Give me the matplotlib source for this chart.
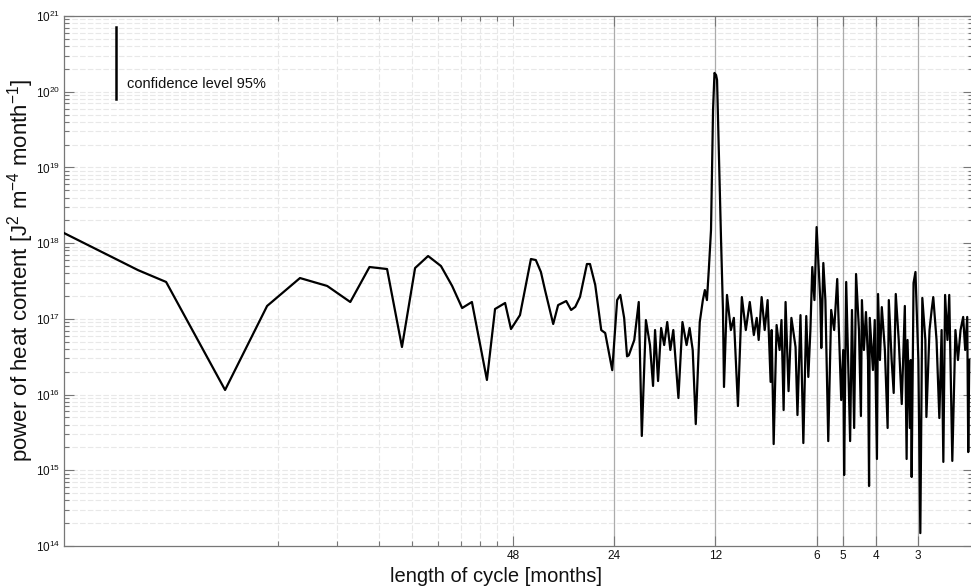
import numpy as np
import matplotlib
matplotlib.use("Agg")
import matplotlib.pyplot as plt
from matplotlib.ticker import FixedLocator, NullFormatter, LogFormatterSciNotation, FixedFormatter
import matplotlib.transforms as mtransforms

plt.rcParams['font.family'] = ['Liberation Sans', 'DejaVu Sans']
plt.rcParams['mathtext.fontset'] = 'custom'
plt.rcParams['mathtext.rm'] = 'Liberation Sans'
plt.rcParams['mathtext.it'] = 'Liberation Sans:italic'
plt.rcParams['mathtext.bf'] = 'Liberation Sans:bold'

# ---- data: period of cycle [months] and spectral power ----
period_months = [
    1036, 624, 515, 344, 258, 206, 171, 146, 128, 113.5, 102.5, 93.7, 85.7, 78.5,
    72.7, 67.9, 63.5, 57.3, 54.2, 50.6, 48.6, 45.7, 42.4, 41.0, 39.6, 38.5, 36.4,
    35.2, 33.3, 32.2, 31.3, 30.3, 28.9, 28.3, 27.3, 26.2, 25.5, 24.3, 23.5, 23.0,
    22.4, 21.96, 21.7, 20.9,
    20.27, 19.85, 19.30, 18.77, 18.38, 18.13, 17.76, 17.39, 17.03, 16.68, 16.33,
    16.00, 15.45, 15.03, 14.61, 14.31, 14.01, 13.72, 13.35, 13.07, 12.89, 12.71,
    12.54, 12.36, 12.19, 12.07, 11.94, 11.86, 11.70, 11.54, 11.39, 11.31, 11.08,
    10.79, 10.57, 10.28, 10.01, 9.74, 9.48, 9.22, 9.04, 8.92, 8.74, 8.56, 8.39,
    8.22, 8.16, 8.05, 7.89, 7.73, 7.63, 7.52, 7.42, 7.27, 7.13, 6.93, 6.84, 6.70,
    6.57, 6.44, 6.35, 6.26, 6.18, 6.09, 6.0, 5.85, 5.81, 5.73, 5.65, 5.54, 5.43,
    5.32, 5.21, 5.07, 5.00, 4.97, 4.90, 4.77, 4.71, 4.64, 4.58, 4.49, 4.43, 4.40,
    4.34, 4.28, 4.22, 4.19, 4.17, 4.08, 4.03, 3.97, 3.94, 3.89, 3.84, 3.76, 3.69,
    3.66, 3.59, 3.54, 3.49, 3.42, 3.35, 3.28, 3.24, 3.22, 3.17, 3.15, 3.13, 3.09,
    3.05, 3.01, 2.99, 2.95, 2.91, 2.85, 2.83, 2.77, 2.73, 2.70, 2.64, 2.59, 2.55,
    2.52, 2.49, 2.45, 2.42, 2.37, 2.32, 2.28, 2.24, 2.20, 2.17, 2.14, 2.125, 2.11,
]
power = [
    1.36e18, 4.4e17, 3.07e17, 1.15e16, 1.48e17, 3.46e17, 2.72e17, 1.67e17, 4.84e17,
    4.55e17, 4.25e16, 4.69e17, 6.76e17, 4.99e17, 2.72e17, 1.39e17, 1.67e17, 1.56e16,
    1.35e17, 1.62e17, 7.34e16, 1.12e17, 6.17e17, 5.98e17, 4.16e17, 2.4e17, 8.55e16,
    1.52e17, 1.72e17, 1.31e17, 1.44e17, 1.95e17, 5.3e17, 5.3e17, 2.8e17, 7.1e16,
    6.5e16, 2.1e16, 1.77e17, 2.07e17, 1.03e17, 3.2e16, 3.3e16, 5.25e16,
    1.67e17, 2.84e15, 9.65e16, 4.51e16, 1.30e16, 7.12e16, 1.51e16, 7.57e16, 4.51e16,
    9.08e16, 3.88e16, 7.12e16, 9.0e15, 9.08e16, 4.51e16, 7.57e16, 3.88e16, 4.08e15,
    9.08e16, 1.77e17, 2.40e17, 1.77e17, 4.69e17, 1.49e18, 5.73e19, 1.77e20, 1.66e20,
    1.43e20, 1.25e19, 1.10e18, 1.31e17, 1.26e16, 2.07e17, 7.12e16, 1.03e17, 7.06e15,
    1.94e17, 7.12e16, 1.67e17, 6.12e16, 1.03e17, 5.26e16, 1.94e17, 7.12e16, 1.77e17,
    1.47e16, 7.12e16, 2.22e15, 8.29e16, 3.88e16, 9.65e16, 6.25e15, 1.67e17, 1.11e16,
    1.03e17, 4.25e16, 5.37e15, 1.12e17, 2.29e15, 1.09e17, 1.71e16, 7.12e16, 4.84e17,
    1.77e17, 1.63e18, 1.77e17, 4.12e16, 5.47e17, 1.77e17, 2.43e15, 1.31e17, 7.12e16,
    3.36e17, 8.47e15, 3.88e16, 8.66e14, 3.07e17, 2.43e15, 1.31e17, 3.62e15, 3.91e17,
    7.12e16, 5.21e15, 1.77e17, 3.88e16, 1.23e17, 2.86e16, 6.2e14, 1.03e17, 2.11e16,
    9.65e16, 1.41e15, 2.13e17, 2.86e16, 1.43e17, 3.88e16, 3.62e15, 1.77e17, 2.86e16,
    1.05e16, 2.13e17, 5.26e16, 7.5e15, 1.48e17, 1.41e15, 5.26e16, 3.62e15, 2.86e16,
    8.15e14, 2.98e17, 4.16e17, 7.12e16, 2.86e16, 1.48e14, 1.89e17, 5.26e16, 5.05e15,
    7.12e16, 1.31e17, 1.94e17, 5.26e16, 4.9e15, 7.12e16, 1.29e15, 2.07e17, 5.26e16,
    2.07e17, 1.33e15, 7.12e16, 2.86e16, 7.12e16, 1.06e17, 3.88e16, 1.06e17, 1.74e15,
    2.86e16,
]

tick_periods = [48, 24, 12, 6, 5, 4, 3]
tick_labels = ['48', '24', '12', '6', '5', '4', '3']
minor_periods = [240, 160, 120, 96, 80, 480 / 7, 60, 160 / 3]
line_periods = [24, 12, 6, 5, 4, 3]
y_decades = list(range(14, 22))
conf_low, conf_high = 8.0e19, 7.2e20
conf_text = 'confidence level 95%'
period_limits = (1036, 2.057)

freq = 1.0 / np.asarray(period_months, dtype=float)

fig = plt.figure(figsize=(9.71, 5.88), dpi=100)
ax = fig.add_axes([64 / 971, 42 / 588, (973 - 64) / 971, 530 / 588])
ax.set_xscale('log')
ax.set_yscale('log')
ax.set_xlim(1.0 / period_limits[0], 1.0 / period_limits[1])
ax.set_ylim(10.0 ** y_decades[0], 10.0 ** y_decades[-1])

y_major = [10.0 ** e for e in y_decades]
y_minor = [m * 10.0 ** e for e in y_decades[:-1] for m in range(2, 10)]
ax.yaxis.set_major_locator(FixedLocator(y_major))
ax.yaxis.set_minor_locator(FixedLocator(y_minor))
ax.yaxis.set_major_formatter(LogFormatterSciNotation())
ax.yaxis.set_minor_formatter(NullFormatter())
ax.grid(False)
for yv in y_major[1:-1] + y_minor:
    ax.axhline(yv, color='#e8e8e8', lw=0.8, ls=(0, (5, 2)), zorder=0)
for p in minor_periods + [48]:
    ax.axvline(1.0 / p, color='#e8e8e8', lw=0.8, ls=(0, (5, 2)), zorder=0)
for p in line_periods:
    ax.axvline(1.0 / p, color='#ababab', lw=0.9, zorder=1)

ax.xaxis.set_major_locator(FixedLocator([1.0 / p for p in tick_periods]))
ax.xaxis.set_major_formatter(FixedFormatter(tick_labels))
ax.xaxis.set_minor_locator(FixedLocator([1.0 / p for p in minor_periods]))
ax.xaxis.set_minor_formatter(NullFormatter())
ax.xaxis.get_offset_text().set_visible(False)
ax.yaxis.get_offset_text().set_visible(False)

ax.plot(freq, power, color='black', lw=1.6, zorder=3)

# confidence bar
trans = mtransforms.blended_transform_factory(ax.transAxes, ax.transData)
ax.plot([0.0572, 0.0572], [conf_low, conf_high], color='black', lw=1.8, transform=trans, zorder=3)
ax.text(0.0693, 0.864, conf_text, transform=ax.transAxes, fontsize=10.5,
        va='baseline', ha='left', color='#111111')

for s in ax.spines.values():
    s.set_color('#777777')
    s.set_linewidth(0.9)
ax.tick_params(which='both', direction='in', top=True, right=True, color='#777777',
               labelsize=8.5, labelcolor='#111111')
ax.tick_params(which='major', length=7, width=0.8, pad=3)
ax.tick_params(which='minor', length=3.5, width=0.8)

ax.set_xlabel('length of cycle [months]', fontsize=14.5, color='#111111')
ax.set_ylabel('power of heat content [J$^2$ m$^{-4}$ month$^{-1}$]', fontsize=16, color='#111111')
ax.xaxis.set_label_coords(0.475, -0.04)
ax.yaxis.set_label_coords(-0.031, 0.52)

fig.savefig('out.png', dpi=100)
